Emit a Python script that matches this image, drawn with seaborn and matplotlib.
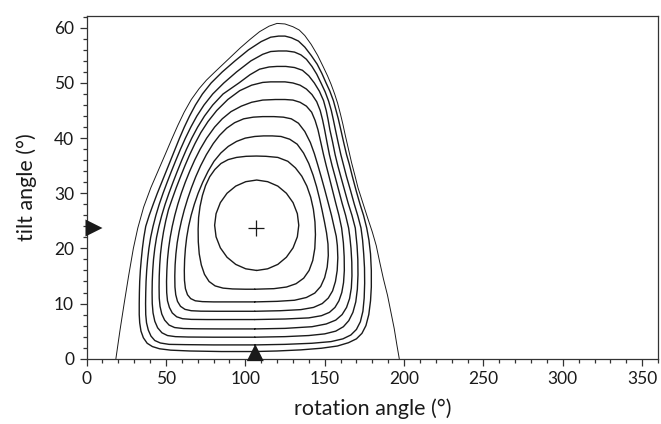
import matplotlib
matplotlib.use("Agg")
import matplotlib.pyplot as plt
import seaborn as sns
import pandas as pd
from matplotlib.ticker import MultipleLocator

# ---- contour outlines (rotation angle, tilt angle) ----
# outermost contour is open: it starts and ends on the tilt = 0 axis
contour_0 = [(18.5, 0), (21, 5), (23.7, 10), (26.5, 15), (29.5, 20), (32.3, 23.7), (36, 27.5),
             (40.5, 31), (45, 34), (49.5, 37), (53.5, 39.7), (57.5, 42.3), (61.5, 44.7), (66, 47),
             (71, 49), (75.5, 50.5), (80.5, 51.9), (86, 53.4), (91.5, 54.9), (97, 56.4),
             (103, 57.9), (109, 59.3), (115, 60.3), (120, 60.8), (125, 60.7), (130, 60.2),
             (134, 59.6), (137.5, 58.6), (141.5, 57), (145.6, 55), (149, 53), (151.8, 51.3),
             (154, 49.8), (156.3, 48), (158.2, 46.3), (160, 44.3), (161.5, 42.5), (163, 40.5),
             (165, 38), (167, 35.5), (169, 33.3), (171, 31), (174, 28.3), (177, 25.6), (180, 23),
             (182.5, 20.5), (184.7, 17.5), (187, 14.5), (189.6, 11.5), (191.7, 8.5), (193.8, 5.5),
             (195.5, 2.5), (197, 0)]
contour_1 = [(106, 1.3), (120, 1.4), (135, 1.6), (148, 1.9), (158, 2.3), (165, 2.9), (170, 3.6),
             (173.5, 4.6), (176, 6), (177.8, 8), (178.9, 10.5), (179.4, 13), (179.4, 16),
             (178.9, 19), (177.9, 21.5), (176.5, 23.7), (174.5, 26), (172.3, 28), (170, 30.3),
             (167.5, 33), (165.5, 35.3), (163.8, 37), (162, 39.2), (160.2, 41.5), (158.6, 43.5),
             (157.2, 45), (155.5, 46.8), (153.3, 48.5), (150.9, 50), (148.3, 51.7), (145.3, 53.4),
             (141.5, 55), (137.5, 56.5), (133.5, 57.6), (129, 58.2), (125, 58.5), (121, 58.5),
             (116, 58.3), (110, 57.5), (102, 56), (93.5, 54), (85.5, 52), (78.5, 50), (73, 48),
             (68.6, 46), (64.9, 44), (61.6, 42), (58.6, 40), (55.8, 38), (53, 36), (50.2, 34),
             (47.4, 32), (44.6, 30), (42, 28), (39.5, 26), (37.3, 24), (36.1, 22), (35.2, 20),
             (34.5, 18), (33.9, 16), (33.5, 14), (33.3, 12), (33.2, 10), (33.2, 8), (33.5, 6.5),
             (34.3, 5), (35.8, 3.8), (38.2, 2.8), (41.5, 2.2), (46, 1.8), (53, 1.55), (65, 1.4),
             (85, 1.3), (106, 1.3)]
contour_2 = [(106, 2.5), (125, 2.6), (142, 2.8), (154, 3.1), (161.5, 3.6), (166.5, 4.3), (170, 5.3),
             (172.5, 6.7), (174.1, 8.6), (174.9, 11), (175.2, 13.7), (175.1, 16.5), (174.6, 19),
             (173.9, 21.5), (172.9, 23.7), (171, 25.8), (168.7, 28), (166.3, 30.5), (163.8, 33),
             (162, 35), (160.2, 37), (158.5, 39.2), (156.8, 41.5), (155.5, 43.3), (154.2, 45),
             (152.5, 46.7), (150.3, 48.4), (147.7, 50), (145, 51.6), (142, 53), (138.5, 54.3),
             (135, 55.1), (131, 55.6), (126, 55.8), (121, 55.8), (116, 55.7), (111, 55.2),
             (103.5, 54), (94.5, 52), (86.5, 50), (79.5, 48), (74, 46), (69.5, 44), (65.7, 42),
             (62.3, 40), (59.2, 38), (56.3, 36), (53.5, 34), (50.8, 32), (48.2, 30), (45.8, 28),
             (43.7, 26), (41.9, 24), (40.4, 22), (39.3, 20), (38.5, 18), (37.9, 16), (37.5, 14),
             (37.3, 12), (37.2, 10), (37.3, 8), (37.8, 6.5), (38.9, 5.2), (40.6, 4.1), (43, 3.3),
             (46.5, 2.85), (52, 2.6), (62, 2.55), (80, 2.5), (106, 2.5)]
contour_3 = [(106, 3.9), (125, 4), (140, 4.2), (150, 4.5), (157, 5), (161.8, 5.8), (165.2, 6.9),
             (167.8, 8.4), (169.6, 10.3), (170.6, 12.6), (171, 15.2), (170.9, 18), (170.4, 20.5),
             (169.3, 23.7), (167.2, 26), (164.8, 28.2), (162.5, 30.6), (160.2, 33), (158.3, 35),
             (156.6, 37), (155, 39.3), (153.3, 41.5), (152.2, 43.3), (151, 45), (149.3, 46.8),
             (146.7, 48.5), (143.5, 50), (140, 51.3), (136, 52.3), (131, 52.8), (125.5, 53),
             (120, 53), (115, 52.9), (109, 52.5), (103, 51.5), (96, 50), (86, 48), (79.5, 46),
             (74.3, 44), (70, 42), (66.3, 40), (63, 38), (60, 36), (57.2, 34), (54.5, 32),
             (51.9, 30), (49.5, 28), (47.4, 26), (45.6, 24), (44.1, 22), (43, 20), (42.2, 18),
             (41.7, 16), (41.4, 14), (41.3, 12), (41.4, 10), (41.9, 8.3), (43, 6.8), (44.8, 5.6),
             (47.5, 4.7), (51, 4.2), (56, 4), (64, 3.93), (80, 3.9), (106, 3.9)]
contour_4 = [(106, 5.4), (125, 5.5), (142, 5.8), (151, 6.3), (157, 7), (161, 8), (163.8, 9.3),
             (165.7, 10.9), (166.8, 12.8), (167.2, 15), (167.1, 17.5), (166.6, 20), (165.9, 22),
             (165.1, 23.7), (163.2, 26), (161, 28.2), (158.8, 30.6), (156.6, 33), (154.7, 35),
             (153, 37), (151.5, 39.2), (150, 41.5), (148.7, 43.3), (147.2, 45), (145, 46.6),
             (142, 47.9), (138.5, 48.9), (134.5, 49.6), (130, 50), (125, 50.2), (120, 50.2),
             (116, 50.2), (111, 50.1), (104, 49.6), (96.5, 48.6), (89, 47), (82, 45), (76.5, 43),
             (72, 41), (68.3, 39), (65, 37), (62, 35), (59.2, 33), (56.5, 31), (54, 29),
             (51.6, 27), (49.9, 25), (48.5, 23), (47.4, 21), (46.6, 19), (46.1, 17), (45.8, 15),
             (45.7, 13), (45.8, 11), (46.3, 9.5), (47.4, 8.1), (49.2, 7), (52, 6.1), (55.5, 5.65),
             (61, 5.47), (70, 5.42), (85, 5.4), (106, 5.4)]
contour_5 = [(106, 7.1), (125, 7.2), (140, 7.4), (148, 7.8), (153, 8.4), (156.5, 9.3), (159, 10.5),
             (160.8, 12), (161.9, 13.8), (162.4, 16), (162.3, 18.5), (161.8, 21), (160.7, 23.7),
             (159, 26), (157, 28.2), (154.9, 30.6), (152.8, 33), (151, 35), (149.3, 37),
             (147.6, 39.2), (145.8, 41.5), (144, 43.2), (141.8, 44.7), (138.5, 45.8), (134.5, 46.5),
             (130, 46.9), (125, 47.0), (119, 47), (111, 46.9), (104, 46.5), (97.5, 45.8),
             (91, 44.8), (85.5, 43.5), (80.7, 42), (75.7, 40), (71.6, 38), (68.1, 36), (65, 34),
             (62.2, 32), (59.7, 30), (57.5, 28), (55.6, 26), (54, 24), (52.7, 22), (51.7, 20),
             (51, 18), (50.6, 16), (50.4, 14), (50.5, 12), (51, 10.5), (52.2, 9.3), (54, 8.3),
             (56.8, 7.6), (60.5, 7.25), (66, 7.13), (76, 7.1), (90, 7.1), (106, 7.1)]
contour_6 = [(106, 8.6), (122, 8.7), (135, 8.9), (143, 9.3), (148.5, 10), (152.3, 11), (155, 12.3),
             (156.8, 14), (157.9, 16), (158.3, 18.3), (158, 20.5), (157.3, 22.2), (156.1, 23.7),
             (154.3, 26), (152.3, 28.2), (150.1, 30.6), (147.8, 33), (145.6, 35.2), (143.5, 37.2),
             (141, 39.2), (137.5, 41.2), (133.5, 42.7), (129, 43.5), (124, 43.8), (118, 43.9),
             (111, 43.9), (105, 43.8), (99, 43.5), (93.3, 42.8), (88.3, 41.8), (83.8, 40.5),
             (79.8, 39), (75.5, 37), (71.9, 35), (68.8, 33), (66.1, 31), (63.7, 29), (61.6, 27),
             (59.8, 25), (58.3, 23), (57.1, 21), (56.3, 19), (55.8, 17), (55.6, 15), (55.7, 13),
             (56.2, 11.6), (57.3, 10.4), (59.2, 9.5), (62, 8.95), (66, 8.7), (72, 8.62), (82, 8.6),
             (95, 8.6), (106, 8.6)]
contour_7 = [(106, 10.3), (120, 10.4), (131, 10.6), (138.5, 11.1), (143.8, 11.9), (147.5, 13.1),
             (150, 14.7), (151.6, 16.6), (152.3, 18.7), (152.1, 20.8), (151.2, 22.8), (149.9, 24.8),
             (148.4, 26.9), (146.8, 29), (144.9, 31.2), (142.7, 33.3), (140, 35.4), (136.7, 37.3),
             (132.7, 38.9), (128, 39.8), (122.5, 40.3), (117, 40.4), (111.5, 40.4), (106, 40.3),
             (100, 40), (94.5, 39.4), (89.3, 38.5), (84.6, 37.3), (80.3, 35.8), (76.6, 34),
             (73.2, 32), (70.3, 30), (67.9, 28), (65.9, 26), (64.3, 24), (63.1, 22), (62.3, 20),
             (61.8, 18), (61.6, 16), (61.7, 14.2), (62.3, 12.7), (63.6, 11.6), (65.6, 10.9),
             (68.5, 10.5), (73, 10.35), (80, 10.3), (92, 10.3), (106, 10.3)]
contour_8 = [(106, 12.6), (118, 12.7), (126, 13), (132, 13.6), (136.8, 14.6), (140.2, 16),
             (142.5, 17.8), (143.8, 20), (144.2, 22.5), (143.9, 24.8), (142.9, 27.1), (141.2, 29.3),
             (138.8, 31.3), (135.6, 33.1), (131.6, 34.6), (126.8, 35.8), (120.5, 36.5), (113, 36.7),
             (107, 36.75), (100.5, 36.7), (94.5, 36.5), (89.2, 36.1), (84.7, 35.4), (80.8, 34.3),
             (77.6, 33), (75, 31.4), (73, 29.6), (71.5, 27.6), (70.6, 25.6), (70.3, 23.5),
             (70.4, 21.2), (71, 19), (72.3, 17), (74.3, 15.3), (77.2, 14), (81, 13.2), (86, 12.8),
             (92, 12.65), (100, 12.6), (106, 12.6)]
contour_9 = [(107.2, 16), (114.1, 16.3), (120.5, 17.1), (125.9, 18.4), (130.1, 20.1), (132.8, 22.1),
             (133.7, 24.2), (132.8, 26.3), (130.1, 28.3), (125.9, 30), (120.5, 31.3), (114.1, 32.1),
             (107.2, 32.4), (100.3, 32.1), (94, 31.3), (88.5, 30), (84.3, 28.3), (81.6, 26.3),
             (80.7, 24.2), (81.6, 22.1), (84.3, 20.1), (88.5, 18.4), (94, 17.1), (100.3, 16.3),
             (107.2, 16)]

# ---- marked positions ----
optimum_rot, optimum_tilt = [106.5], [23.7]
tilt_marker_rot, tilt_marker_tilt = [4.7], [23.7]
rot_marker_rot, rot_marker_tilt = [106.3], [1.1]

x_ticks = [0, 50, 100, 150, 200, 250, 300, 350]
y_ticks = [0, 10, 20, 30, 40, 50, 60]

contours = [contour_0, contour_1, contour_2, contour_3, contour_4,
            contour_5, contour_6, contour_7, contour_8, contour_9]
rows = []
for ci, pts in enumerate(contours):
    for k, (xv, yv) in enumerate(pts):
        rows.append({"contour": ci, "order": k, "rot": xv, "tilt": yv})
df = pd.DataFrame(rows)

sns.set_style("ticks")
plt.rcParams["font.family"] = ["Lato", "DejaVu Sans"]

fig = plt.figure(figsize=(6.61, 4.24), dpi=100)
ax = fig.add_axes([0.1309, 0.154, 0.8646, 0.809])

ink = "#1a1a1a"
sns.lineplot(data=df[df.contour > 0], x="rot", y="tilt", units="contour", estimator=None,
             sort=False, color=ink, lw=1.0, ax=ax, legend=False)
sns.lineplot(data=df[df.contour == 0], x="rot", y="tilt", estimator=None,
             sort=False, color=ink, lw=0.7, ax=ax, legend=False)

sns.scatterplot(x=optimum_rot, y=optimum_tilt, marker="+", s=130, color=ink,
                linewidth=0.9, ax=ax, zorder=5)
sns.scatterplot(x=tilt_marker_rot, y=tilt_marker_tilt, marker=">", s=150, color=ink,
                edgecolor="none", ax=ax, zorder=5, clip_on=False)
sns.scatterplot(x=rot_marker_rot, y=rot_marker_tilt, marker="^", s=150, color=ink,
                edgecolor="none", ax=ax, zorder=5, clip_on=False)

ax.set_xlim(0, 360)
ax.set_ylim(0, 62.2)
ax.set_xticks(x_ticks)
ax.set_yticks(y_ticks)
ax.xaxis.set_minor_locator(MultipleLocator(10))
ax.yaxis.set_minor_locator(MultipleLocator(2))
ax.tick_params(axis="both", which="major", length=5, width=0.9, color="#333333",
               labelsize=12.5, pad=4, labelcolor="#1a1a1a")
ax.tick_params(axis="both", which="minor", length=3, width=0.9, color="#333333")
ax.tick_params(top=False, right=False, which="both")
for s in ax.spines.values():
    s.set_linewidth(0.9)
    s.set_color("#333333")

ax.set_xlabel("rotation angle (°)", fontsize=15.5, color="#1a1a1a", labelpad=8)
ax.set_ylabel("tilt angle (°)", fontsize=15.5, color="#1a1a1a", labelpad=12)

fig.savefig("out.png", dpi=100)
